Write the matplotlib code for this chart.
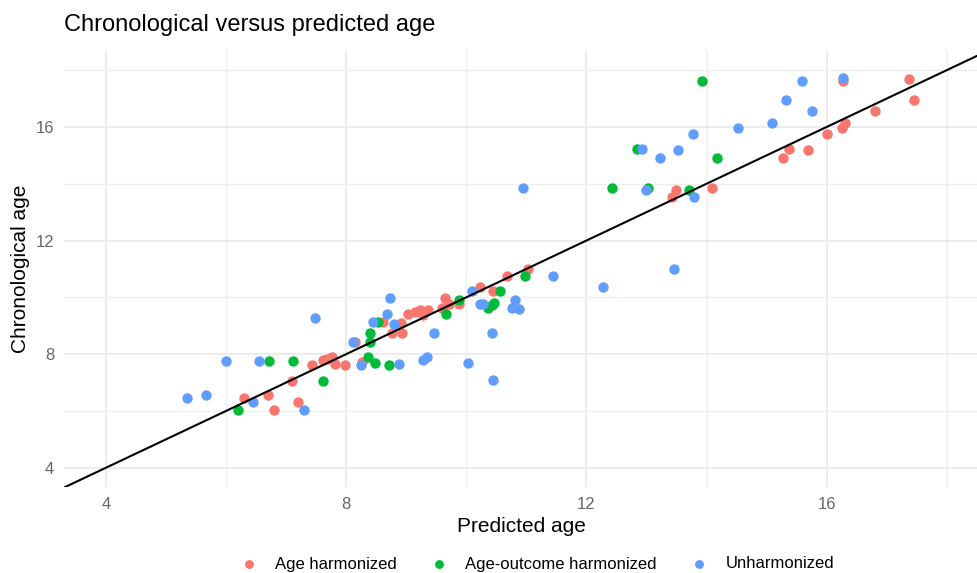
import matplotlib
matplotlib.use("Agg")
import matplotlib.pyplot as plt

plt.rcParams['font.family'] = ['Liberation Sans', 'DejaVu Sans']

# predicted age (x) / chronological age (y) per group
age_h_x = [6.29, 6.70, 6.80, 7.10, 7.20, 7.43, 7.62, 7.68, 7.77, 7.82, 7.98, 8.15, 8.27,
           8.62, 8.77, 8.92, 8.93, 9.03, 9.15, 9.23, 9.36, 9.28, 9.60, 9.65, 9.71, 9.88,
           10.23, 10.45, 10.68, 11.03, 13.42, 13.49, 14.09, 15.27, 15.37, 15.69, 16.00,
           16.25, 16.30, 16.80, 16.27, 17.37, 17.45]
age_h_y = [6.45, 6.56, 6.03, 7.05, 6.31, 7.61, 7.79, 7.82, 7.89, 7.65, 7.61, 8.42, 7.72,
           9.13, 8.74, 9.09, 8.74, 9.41, 9.48, 9.55, 9.55, 9.37, 9.62, 9.97, 9.76, 9.76,
           10.36, 10.22, 10.75, 10.99, 13.53, 13.77, 13.85, 14.90, 15.22, 15.18, 15.75,
           15.96, 16.13, 16.56, 17.61, 17.68, 16.94]

age_out_x = [6.20, 6.72, 7.12, 7.62, 8.53, 8.40, 8.40, 8.37, 8.48, 8.72, 9.66, 9.88,
             10.36, 10.43, 10.46, 10.56, 10.98, 13.92, 12.84, 14.17, 12.43, 13.03, 13.71]
age_out_y = [6.03, 7.75, 7.75, 7.05, 9.13, 8.74, 8.42, 7.89, 7.68, 7.61, 9.41, 9.90,
             9.62, 9.73, 9.80, 10.22, 10.75, 17.61, 15.22, 14.90, 13.85, 13.85, 13.77]

unharm_x = [5.35, 5.67, 6.00, 6.54, 6.45, 7.30, 7.48, 8.12, 8.24, 8.73, 8.68, 8.45, 8.80,
            8.88, 9.46, 9.28, 9.35, 10.03, 10.10, 10.23, 10.28, 10.43, 10.45, 10.76, 10.81,
            10.88, 11.44, 12.28, 10.95, 13.46, 13.77, 12.93, 13.22, 13.52, 12.99, 13.79,
            14.52, 15.09, 15.32, 15.59, 15.75, 16.27]
unharm_y = [6.45, 6.56, 7.75, 7.75, 6.31, 6.03, 9.27, 8.42, 7.61, 9.97, 9.41, 9.13, 9.06,
            7.65, 8.74, 7.79, 7.89, 7.68, 10.22, 9.76, 9.76, 8.74, 7.08, 9.62, 9.90,
            9.58, 10.75, 10.36, 13.85, 10.99, 15.75, 15.22, 14.90, 15.18, 13.77, 13.53,
            15.96, 16.13, 16.94, 17.61, 16.56, 17.72]

groups = ['Age harmonized', 'Age-outcome harmonized', 'Unharmonized']
colors = ['#F8766D', '#00BA38', '#619CFF']

fig = plt.figure(figsize=(9.78, 5.73), dpi=100)
ax = fig.add_axes([64/978, 1-487/573, (978-64)/978, (487-50)/573])

xs = [age_h_x, age_out_x, unharm_x]
ys = [age_h_y, age_out_y, unharm_y]
for gx, gy, lab, col in zip(xs, ys, groups, colors):
    ax.scatter(gx, gy, s=56, color=col, label=lab, linewidths=0, zorder=3)

ax.set_xlim(3.3, 18.52)
ax.set_ylim(3.32, 18.71)
ax.axline((4, 4), slope=1, color='black', lw=1.5, zorder=4)

ax.set_xticks([4, 8, 12, 16])
ax.set_yticks([4, 8, 12, 16])
ax.set_xticks([6, 10, 14, 18], minor=True)
ax.set_yticks([6, 10, 14, 18], minor=True)
ax.grid(True, which='major', color='#EBEBEB', lw=1.3)
ax.grid(True, which='minor', color='#EFEFEF', lw=1.0)
ax.set_axisbelow(True)
ax.tick_params(which='both', length=0, labelsize=12, labelcolor='#666666', pad=7)
for s in ax.spines.values():
    s.set_visible(False)

ax.set_xlabel('Predicted age', fontsize=15, labelpad=4)
ax.set_ylabel('Chronological age', fontsize=15, labelpad=4)
fig.text(64/978, 1-25/573, 'Chronological versus predicted age', fontsize=17, va='center')

fig.legend(loc='center', bbox_to_anchor=(0.545, 1-564/573), ncol=3, frameon=False,
           fontsize=12, handletextpad=0.6, columnspacing=1.5, markerscale=0.85)

fig.savefig('out.png', dpi=100)
